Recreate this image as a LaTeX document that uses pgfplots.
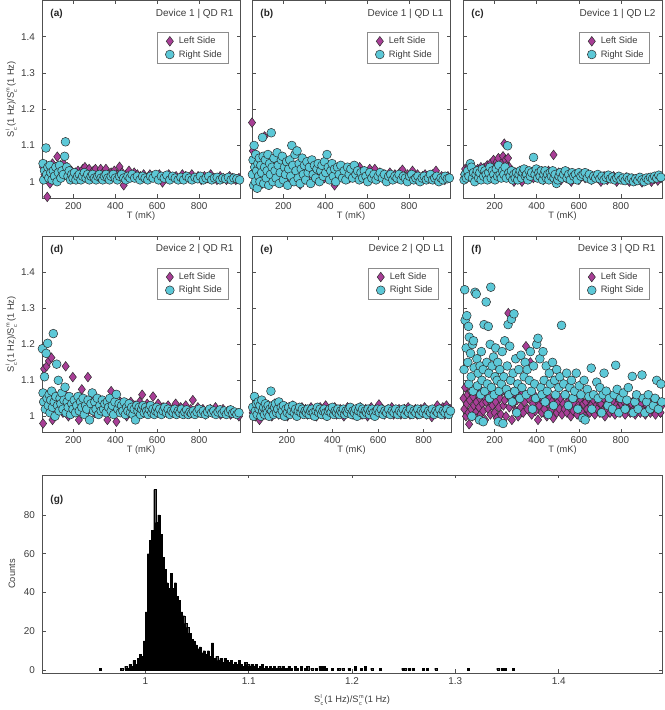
\documentclass[border=0pt]{standalone}
\usepackage{pgfplots}
\pgfplotsset{compat=1.18}
\usepackage{fontspec}
\setmainfont{Liberation Sans}
\definecolor{lside}{RGB}{168,62,150}
\definecolor{rside}{RGB}{92,200,215}
\definecolor{edge}{RGB}{45,45,45}
\definecolor{axc}{RGB}{80,80,80}
\definecolor{txt}{RGB}{60,60,60}
\newcommand{\fs}{\fontsize{9.3bp}{11bp}\selectfont}
\newcommand{\fk}{\fontsize{9.9bp}{11bp}\selectfont}
\newcommand{\ft}{\fontsize{10bp}{12bp}\selectfont}
\newcommand{\sbsp}[2]{\kern0.5bp\raisebox{-3.3bp}{\fontsize{5.5bp}{7.6bp}\selectfont\begin{tabular}[b]{@{}l@{}}#2\\#1\end{tabular}}\kern1bp}
\newcommand{\ratio}{S\sbsp{c}{l}(1 Hz)/S\sbsp{c}{m}(1 Hz)}
\pgfplotsset{
  base/.style={scale only axis, axis line style={axc, line width=0.5bp},
    tick style={axc, line width=0.5bp}, tick align=inside, major tick length=3.5bp,
    ticklabel style={font=\fk, text=txt}, label style={font=\fs, text=txt},
    /pgf/number format/assume math mode=true, xticklabel style={yshift=-1bp},
    yticklabel style={xshift=-3.5bp}},
  scat/.style={base, xmin=50, xmax=995, ymin=0.955, ymax=1.5,
    xtick={200,400,600,800}, ytick={1,1.1,1.2,1.3,1.4},
    xlabel={T (mK)}, xlabel style={at={(axis description cs:0.5,-0.092)}, anchor=center},
    legend style={at={(0.939,0.838)}, anchor=north east, draw=black!45, fill=white,
      font=\fs, text=txt, inner xsep=4bp, inner ysep=2.5bp, row sep=1bp},
    legend image code/.code={\path[draw=none, fill=none] (0bp,0bp) -- (16bp,0bp); \draw[##1, only marks] plot coordinates {(9bp,0bp)};},
    legend cell align=left},
  noylab/.style={yticklabels={}},
  ylab/.style={ylabel={\ratio}, ylabel style={at={(axis description cs:-0.152,0.5)}, anchor=center}},
  lpl/.style={only marks, mark=diamond*, mark size=4.8bp, draw=edge, fill=lside, line width=0.5bp},
  rpl/.style={only marks, mark=*, mark size=4.4bp, draw=edge, fill=rside, line width=0.5bp},
}
\newcommand{\plab}[2]{%
  \node[anchor=west, font=\bfseries\ft, text=black!85] at (rel axis cs:0.025,0.934) {#1};
  \node[anchor=east, font=\ft, text=txt] at (rel axis cs:0.985,0.934) {#2};}
\begin{document}
\begin{tikzpicture}
\path[use as bounding box] (0,0) rectangle (665bp,710bp);

% (a)
\begin{axis}[scat, ylab, width=198bp, height=197.5bp, at={(42bp,512bp)}, anchor=south west]
\addplot[lpl] coordinates {(55,1.04) (62,1.02) (70,1.045) (75,0.958) (80,1.03) (88,0.995) (95,1.035) (100,1.05) (108,1.02) (115,1.04) (123,1.069) (130,1.03) (138,1.045) (145,1.02) (152,1.05) (160,1.035) (170,1.04) (180,1.025) (190,1.03) (200,1.015) (210,1.025) (222,1.03) (235,1.02) (245,1.035) (255,1.04) (265,1.025) (275,1.035) (285,1.02) (295,1.03) (305,1.035) (318,1.02) (330,1.035) (342,1.025) (355,1.035) (368,1.02) (380,1.025) (395,1.03) (408,1.02) (420,1.041) (432,1.025) (440,0.99) (452,1.02) (465,1.03) (478,1.015) (490,1.025) (505,1.02) (520,1.015) (535,1.02) (550,1.01) (565,1.02) (580,1.015) (595,1.01) (610,1.02) (625,0.998) (640,1.015) (655,1.02) (670,1.01) (690,1.015) (705,1.01) (720,1.02) (735,1.015) (750,1.01) (765,1.02) (780,1.01) (795,1.015) (810,1.005) (825,1.015) (840,1.01) (855,1.02) (870,1.01) (885,1.005) (900,1.015) (915,1.01) (930,1.005) (945,1.015) (960,1.01) (975,1.005) (990,1.01)};
\addlegendentry{Left Side}
\addplot[rpl] coordinates {(55,1.05) (58,1.005) (62,1.03) (69,1.093) (72,1.02) (78,1.04) (82,1.01) (88,1.045) (92,1.025) (98,1.005) (104,1.03) (110,1.015) (116,1.04) (122,1.0) (128,1.025) (134,1.045) (140,1.01) (146,1.03) (152,1.02) (158,1.07) (162,1.11) (168,1.04) (174,1.015) (180,1.03) (186,1.005) (192,1.02) (198,1.01) (205,1.025) (212,1.005) (220,1.015) (228,1.02) (236,1.005) (244,1.015) (252,1.025) (260,1.01) (268,1.02) (276,1.005) (284,1.015) (292,1.02) (300,1.01) (308,1.005) (316,1.015) (324,1.02) (332,1.01) (340,1.005) (348,1.015) (356,1.02) (364,1.01) (372,1.005) (380,1.015) (390,1.02) (400,1.01) (410,1.005) (420,1.015) (430,1.02) (440,1.01) (450,1.005) (460,1.015) (470,1.01) (480,1.02) (492,1.01) (505,1.015) (518,1.005) (530,1.015) (542,1.01) (555,1.005) (568,1.015) (580,1.01) (593,1.02) (606,1.005) (620,1.015) (633,1.01) (646,1.018) (660,1.005) (673,1.015) (686,1.01) (700,1.005) (713,1.012) (726,1.005) (740,1.015) (753,1.01) (766,1.005) (780,1.012) (793,1.008) (806,1.015) (820,1.005) (833,1.01) (846,1.015) (860,1.005) (873,1.01) (886,1.012) (900,1.005) (913,1.01) (926,1.008) (940,1.012) (953,1.005) (966,1.01) (980,1.008) (993,1.005)};
\addlegendentry{Right Side}
\plab{(a)}{Device 1 | QD R1}
\end{axis}

% (b)
\begin{axis}[scat, noylab, width=198bp, height=197.5bp, at={(252bp,512bp)}, anchor=south west]
\addplot[lpl] coordinates {(50,1.163) (54,1.085) (57,0.99) (60,1.03) (64,1.05) (68,1.0) (72,1.04) (76,1.07) (80,1.01) (85,1.045) (90,1.02) (95,1.06) (100,0.995) (105,1.035) (110,1.125) (115,1.05) (120,1.015) (126,1.04) (132,1.0) (138,1.03) (145,1.055) (152,1.02) (160,1.04) (168,1.005) (176,1.035) (185,1.05) (194,1.015) (203,1.03) (212,1.0) (221,1.045) (230,1.02) (240,1.035) (250,1.01) (260,1.04) (270,1.025) (280,0.992) (290,1.03) (300,1.015) (312,1.035) (324,1.02) (336,1.04) (348,1.005) (360,1.03) (372,1.015) (384,1.035) (396,1.01) (408,1.025) (420,1.04) (432,1.015) (444,0.99) (456,1.03) (468,1.02) (480,1.035) (492,1.015) (504,1.025) (516,1.01) (528,1.04) (540,1.035) (552,1.02) (564,1.04) (576,1.015) (588,1.025) (600,1.01) (612,1.035) (624,1.02) (636,1.035) (648,1.01) (660,1.025) (672,1.015) (684,1.02) (696,1.005) (708,1.025) (720,1.015) (732,1.02) (744,1.01) (756,1.025) (768,1.033) (780,1.015) (792,1.02) (804,1.01) (816,1.03) (828,1.015) (840,1.02) (852,1.005) (864,1.015) (876,1.02) (888,1.01) (900,1.015) (912,1.02) (928,1.03) (940,1.01) (955,1.015) (970,1.005) (985,1.015)};
\addlegendentry{Left Side}
\addplot[rpl] coordinates {(52,1.02) (55,1.06) (58,0.99) (60,1.10) (63,1.04) (66,1.0) (68,1.075) (72,1.03) (75,0.982) (78,1.05) (82,1.015) (85,1.065) (88,1.0) (92,1.045) (96,1.025) (100,1.122) (103,1.07) (106,0.995) (110,1.04) (114,1.06) (118,1.01) (122,1.03) (126,1.075) (130,0.99) (134,1.05) (138,1.02) (142,1.135) (146,1.04) (150,1.0) (155,1.065) (160,1.03) (165,1.01) (170,1.08) (175,1.045) (180,0.995) (185,1.025) (190,1.06) (195,1.07) (200,1.005) (205,1.04) (210,1.02) (215,1.055) (220,0.99) (225,1.035) (230,1.06) (235,1.015) (240,1.10) (245,1.045) (250,1.0) (255,1.075) (260,1.03) (265,1.085) (270,1.01) (275,1.05) (280,0.995) (285,1.035) (290,1.065) (295,1.02) (300,1.045) (306,1.005) (312,1.055) (318,1.025) (324,1.04) (330,0.995) (336,1.06) (342,1.02) (348,1.045) (354,1.01) (360,1.035) (366,1.05) (372,1.0) (378,1.03) (384,1.045) (390,1.015) (396,1.055) (402,1.025) (408,1.075) (414,1.04) (420,1.005) (426,1.03) (432,1.05) (438,1.015) (444,1.035) (450,1.0) (458,1.04) (466,1.02) (474,1.045) (482,1.01) (490,1.03) (498,1.005) (506,1.04) (514,1.02) (522,1.035) (530,1.01) (538,1.045) (546,1.02) (554,1.03) (562,1.005) (570,1.025) (578,1.01) (586,1.03) (594,1.015) (602,1.0) (612,1.025) (622,1.01) (632,1.02) (642,1.005) (652,1.015) (662,1.025) (672,1.01) (682,1.02) (692,1.0) (702,1.015) (712,1.02) (722,1.005) (732,1.015) (742,1.01) (752,1.02) (762,1.005) (772,1.015) (782,1.01) (792,1.0) (802,1.015) (812,1.02) (822,1.005) (832,1.01) (842,1.015) (852,1.0) (862,1.01) (872,1.015) (882,1.005) (892,1.01) (902,1.02) (912,1.005) (922,1.01) (932,1.015) (942,1.0) (952,1.01) (962,1.005) (972,1.015) (982,1.008) (992,1.01)};
\addlegendentry{Right Side}
\plab{(b)}{Device 1 | QD L1}
\end{axis}

% (c)
\begin{axis}[scat, noylab, width=199bp, height=197.5bp, at={(463bp,512bp)}, anchor=south west]
\addplot[lpl] coordinates {(55,1.02) (60,1.035) (68,1.015) (75,1.04) (82,1.025) (90,1.045) (98,1.02) (105,1.03) (112,1.01) (120,1.035) (128,1.025) (135,1.04) (142,1.02) (150,1.038) (158,1.03) (165,1.045) (172,1.02) (180,1.05) (188,1.035) (195,1.06) (202,1.04) (210,1.055) (218,1.065) (225,1.03) (232,1.05) (240,1.07) (246,1.105) (252,1.06) (258,1.045) (264,1.065) (270,1.04) (276,1.02) (284,1.03) (292,1.0) (300,1.025) (310,1.015) (320,1.03) (330,1.0) (340,1.02) (350,1.03) (360,1.015) (372,1.025) (384,1.01) (396,1.03) (408,1.015) (420,1.025) (432,1.005) (444,1.02) (456,1.03) (468,1.015) (480,1.074) (492,1.01) (504,1.025) (516,1.005) (528,1.02) (540,1.01) (552,1.025) (564,1.0) (576,1.015) (588,1.02) (600,1.005) (615,1.015) (630,1.01) (645,1.02) (660,1.005) (675,1.015) (690,1.01) (705,1.0) (720,1.015) (735,1.005) (750,1.01) (765,1.015) (780,1.0) (795,1.01) (810,1.005) (825,1.012) (840,1.0) (855,1.008) (870,1.003) (885,1.01) (900,0.998) (915,1.005) (930,1.01) (945,1.0) (960,1.008) (975,1.003) (990,1.01)};
\addlegendentry{Left Side}
\addplot[rpl] coordinates {(55,1.005) (60,1.02) (66,1.01) (72,1.03) (78,1.015) (85,1.05) (90,1.04) (95,1.01) (100,1.025) (106,1.0) (112,1.02) (118,1.03) (124,1.01) (130,1.025) (136,1.005) (142,1.035) (148,1.015) (154,1.03) (160,1.02) (166,1.005) (172,1.025) (178,1.04) (184,1.01) (190,1.03) (196,1.02) (202,1.005) (208,1.035) (214,1.015) (220,1.045) (226,1.02) (232,1.01) (238,1.03) (244,1.02) (250,1.04) (256,1.01) (262,1.099) (268,1.025) (274,1.015) (280,1.03) (286,1.005) (292,1.02) (298,1.01) (304,1.025) (310,1.005) (316,1.02) (322,1.03) (328,1.01) (334,1.025) (340,1.035) (346,1.015) (352,1.02) (358,1.005) (364,1.03) (370,1.015) (376,1.025) (385,1.067) (392,1.02) (398,1.035) (404,1.01) (410,1.025) (416,1.015) (422,1.03) (428,1.005) (434,1.02) (440,1.03) (446,1.01) (452,1.02) (458,1.005) (464,1.025) (470,1.015) (476,1.03) (482,1.01) (488,1.02) (494,0.995) (500,1.005) (506,1.015) (512,1.025) (520,1.01) (528,1.02) (536,1.03) (544,1.01) (552,1.02) (560,1.005) (568,1.025) (576,1.015) (584,1.02) (592,1.005) (600,1.025) (610,1.015) (620,1.02) (630,1.025) (640,1.01) (650,1.02) (660,1.005) (670,1.015) (680,1.01) (690,1.02) (700,1.008) (710,1.015) (720,1.005) (730,1.012) (740,1.018) (750,1.008) (760,1.013) (770,1.005) (780,1.01) (790,1.015) (800,1.005) (810,1.01) (820,1.003) (830,1.012) (840,1.005) (850,1.01) (860,1.0) (870,1.008) (880,1.003) (890,1.012) (900,1.005) (910,1.0) (920,1.01) (930,1.005) (940,1.012) (950,1.008) (960,1.015) (970,1.01) (980,1.018) (990,1.012)};
\addlegendentry{Right Side}
\plab{(c)}{Device 1 | QD L2}
\end{axis}

% (d)
\begin{axis}[scat, ylab, width=198bp, height=196bp, at={(42bp,277.5bp)}, anchor=south west]
\addplot[lpl] coordinates {(55,0.98) (60,1.132) (66,1.05) (72,1.139) (78,1.02) (83,1.154) (90,1.04) (95,1.163) (100,0.99) (106,1.03) (112,1.06) (118,1.01) (124,1.045) (130,1.02) (136,1.055) (142,1.035) (150,1.01) (156,1.065) (163,1.139) (170,1.03) (176,1.0) (182,1.05) (190,1.02) (197,1.109) (205,1.04) (212,1.015) (220,1.05) (226,0.99) (232,1.03) (240,1.075) (248,1.02) (256,1.045) (262,1.01) (269,1.109) (276,1.035) (284,1.02) (292,1.05) (300,1.01) (310,1.035) (320,1.02) (330,1.045) (340,1.015) (350,1.03) (362,0.99) (372,1.04) (380,1.07) (390,1.02) (398,1.035) (405,0.985) (414,1.025) (424,1.04) (434,1.015) (444,1.03) (454,1.0) (464,1.025) (474,1.04) (484,1.01) (494,1.03) (504,1.015) (516,1.04) (528,1.06) (540,1.025) (552,1.035) (564,1.015) (580,1.055) (592,1.02) (604,1.035) (616,1.01) (628,1.025) (640,1.015) (652,1.03) (664,1.01) (676,1.02) (688,1.035) (700,1.01) (712,1.025) (724,1.015) (736,1.03) (748,1.01) (760,1.02) (770,1.045) (782,1.015) (794,1.025) (806,1.01) (818,1.02) (830,1.005) (842,1.015) (854,1.02) (866,1.01) (878,1.025) (890,1.015) (902,1.005) (914,1.02) (926,1.01) (938,1.015) (950,1.005) (962,1.012) (975,1.008) (990,1.0)};
\addlegendentry{Left Side}
\addplot[rpl] coordinates {(52,1.188) (55,1.065) (58,1.04) (62,1.11) (66,1.02) (70,1.175) (74,1.05) (77,1.203) (80,1.03) (84,1.06) (88,1.01) (92,1.045) (96,1.07) (100,1.025) (104,1.23) (108,1.04) (112,1.0) (116,1.055) (120,1.145) (124,1.03) (128,1.10) (132,1.015) (136,1.05) (140,1.035) (145,1.065) (150,1.02) (155,1.045) (160,1.081) (165,1.01) (170,1.04) (175,1.025) (180,1.055) (186,1.005) (192,1.035) (198,1.02) (204,1.045) (210,1.01) (216,1.03) (222,1.055) (228,1.015) (234,1.04) (240,1.025) (246,1.05) (252,1.005) (258,1.03) (264,1.02) (270,1.045) (277,0.99) (284,1.035) (290,1.065) (296,1.015) (302,1.04) (308,1.02) (314,1.05) (320,1.005) (326,1.03) (332,1.015) (338,1.045) (344,1.02) (350,1.035) (356,1.01) (362,1.04) (368,1.025) (374,1.05) (380,1.015) (386,1.03) (392,1.005) (398,1.04) (405,1.061) (412,1.02) (418,1.035) (424,1.01) (430,1.03) (436,1.015) (442,1.04) (448,1.005) (454,1.025) (460,1.015) (466,1.035) (472,1.01) (478,1.025) (484,1.005) (490,1.02) (496,0.99) (502,1.03) (508,1.015) (514,1.025) (520,1.005) (526,1.02) (532,1.03) (538,1.01) (544,1.025) (550,1.015) (556,1.005) (562,1.02) (568,1.03) (574,1.01) (580,1.02) (586,1.005) (592,1.015) (598,1.025) (604,1.01) (612,1.02) (620,1.005) (628,1.015) (636,1.025) (644,1.01) (652,1.02) (660,1.005) (668,1.015) (676,1.01) (684,1.02) (692,1.005) (700,1.015) (708,1.01) (716,1.02) (724,1.005) (732,1.012) (740,1.018) (748,1.005) (756,1.012) (764,1.008) (772,1.015) (780,1.005) (790,1.012) (800,1.02) (810,1.008) (820,1.015) (830,1.005) (840,1.012) (850,1.02) (860,1.01) (870,1.015) (880,1.005) (890,1.012) (900,1.018) (910,1.008) (920,1.015) (930,1.005) (940,1.012) (950,1.018) (960,1.008) (970,1.012) (980,1.005) (990,1.01)};
\addlegendentry{Right Side}
\plab{(d)}{Device 2 | QD R1}
\end{axis}

% (e)
\begin{axis}[scat, noylab, xmin=47, xmax=920, width=199bp, height=196bp, at={(252bp,277.5bp)}, anchor=south west]
\addplot[lpl] coordinates {(50,1.01) (56,1.02) (62,1.0) (68,1.03) (74,1.015) (80,0.99) (86,1.025) (92,1.01) (98,1.035) (104,1.005) (110,1.02) (116,1.03) (122,1.01) (128,1.025) (134,1.0) (140,1.02) (146,1.035) (152,1.01) (158,1.025) (164,1.005) (170,1.02) (178,1.03) (186,1.01) (194,1.02) (202,1.0) (210,1.025) (218,1.015) (226,1.03) (234,1.01) (242,1.02) (250,1.005) (258,1.015) (266,1.025) (274,1.01) (282,1.02) (290,1.005) (298,1.015) (306,1.025) (314,1.01) (322,1.02) (330,1.0) (338,1.015) (346,1.025) (354,1.01) (362,1.02) (370,1.03) (378,1.005) (386,1.015) (394,1.02) (402,1.01) (410,1.025) (418,1.005) (426,1.015) (434,1.02) (442,1.01) (450,1.0) (458,1.015) (466,1.025) (474,1.01) (482,1.02) (490,1.005) (498,1.015) (506,1.02) (514,1.01) (522,1.025) (530,1.005) (538,1.015) (546,1.02) (554,1.0) (562,1.015) (570,1.025) (578,1.005) (586,1.015) (594,1.02) (604,1.033) (612,1.01) (620,1.02) (628,1.005) (636,1.015) (644,1.02) (652,1.01) (660,1.025) (668,1.005) (676,1.015) (684,1.01) (692,1.02) (700,1.005) (708,1.015) (716,1.02) (724,1.01) (732,1.025) (740,1.005) (748,1.015) (756,1.01) (764,1.02) (772,1.005) (780,1.015) (788,1.02) (796,1.01) (804,1.025) (812,1.005) (820,1.015) (828,1.01) (836,0.998) (844,1.015) (852,1.02) (860,1.03) (868,1.01) (876,1.02) (884,1.025) (892,1.005) (900,1.03) (908,1.015) (916,1.02)};
\addlegendentry{Left Side}
\addplot[rpl] coordinates {(50,1.025) (54,1.0) (58,1.055) (62,1.015) (66,1.035) (70,1.005) (74,1.04) (78,1.02) (82,1.03) (86,1.0) (90,1.045) (94,1.015) (98,1.025) (102,1.005) (106,1.035) (110,1.02) (114,1.01) (118,1.03) (122,1.0) (126,1.02) (130,1.07) (134,1.015) (138,1.03) (142,1.005) (146,1.025) (150,1.035) (155,1.01) (160,1.02) (165,1.04) (170,1.005) (175,1.025) (180,1.015) (185,1.03) (190,1.0) (196,1.02) (202,1.01) (208,1.025) (214,1.005) (220,1.015) (226,1.03) (232,1.01) (238,1.02) (244,1.0) (250,1.015) (256,1.025) (262,1.01) (268,1.02) (274,1.005) (280,1.015) (286,1.01) (292,1.02) (298,1.005) (304,1.015) (310,1.02) (316,1.01) (322,1.0) (328,1.015) (334,1.025) (340,1.01) (346,1.02) (352,1.005) (358,1.015) (364,1.02) (370,1.01) (376,1.0) (382,1.015) (388,1.02) (394,1.01) (400,1.025) (406,1.005) (412,1.015) (418,1.01) (424,1.02) (430,1.005) (436,1.015) (442,1.01) (448,1.02) (454,1.005) (460,1.015) (466,1.01) (472,1.02) (478,1.025) (484,1.005) (490,1.015) (496,1.01) (502,1.02) (508,1.0) (514,1.015) (520,1.025) (526,1.01) (532,1.02) (538,1.005) (544,1.015) (550,1.01) (556,1.02) (562,1.005) (568,1.015) (574,1.02) (580,1.01) (586,1.0) (592,1.015) (598,1.02) (606,1.01) (614,1.02) (622,1.005) (630,1.015) (638,1.01) (646,1.02) (654,1.005) (662,1.015) (670,1.01) (678,1.02) (686,1.005) (694,1.015) (702,1.01) (710,1.02) (718,1.005) (726,1.015) (734,1.01) (742,1.02) (750,1.005) (758,1.015) (766,1.01) (774,1.02) (782,1.005) (790,1.015) (798,1.01) (806,1.02) (814,1.005) (822,1.015) (830,1.01) (838,1.02) (846,1.005) (854,1.015) (862,1.01) (870,1.02) (878,1.005) (886,1.015) (894,1.01) (902,1.02) (910,1.005) (918,1.015)};
\addlegendentry{Right Side}
\plab{(e)}{Device 2 | QD L1}
\end{axis}

% (f)
\begin{axis}[scat, noylab, width=199bp, height=196bp, at={(463bp,277.5bp)}, anchor=south west]
\addplot[lpl] coordinates {(52,1.05) (56,1.02) (60,1.08) (64,1.0) (68,1.035) (72,1.06) (76,1.01) (79,0.978) (82,1.045) (86,1.07) (90,1.02) (94,1.0) (98,1.055) (102,1.03) (106,1.075) (110,1.01) (114,1.04) (118,0.995) (122,1.06) (126,1.025) (130,1.05) (134,1.005) (138,1.07) (142,1.035) (146,1.015) (150,1.055) (155,0.99) (160,1.04) (165,1.065) (170,1.02) (175,1.045) (180,1.005) (185,1.075) (190,1.03) (195,1.055) (200,1.01) (205,1.04) (210,0.995) (215,1.065) (220,1.025) (225,1.05) (230,1.005) (236,1.07) (242,1.03) (248,1.045) (254,1.0) (260,1.06) (265,1.287) (270,1.025) (276,1.05) (282,0.99) (288,1.035) (294,1.065) (300,1.015) (306,1.045) (312,1.0) (318,1.055) (324,1.025) (330,1.07) (336,1.01) (342,1.04) (349,1.195) (356,1.02) (362,1.05) (370,1.15) (376,1.005) (382,1.035) (388,1.06) (394,1.015) (400,1.045) (406,0.99) (412,1.03) (418,1.055) (424,1.01) (430,1.04) (436,1.02) (442,1.065) (448,1.0) (454,1.035) (460,1.05) (466,1.015) (472,1.04) (478,0.995) (484,1.03) (490,1.055) (496,1.01) (502,1.04) (508,1.02) (514,1.05) (520,1.005) (526,1.035) (532,1.02) (538,1.06) (544,1.01) (550,1.04) (556,1.025) (562,1.0) (568,1.045) (574,1.015) (580,1.035) (586,1.055) (592,1.005) (598,1.03) (604,1.02) (610,1.045) (616,1.01) (622,1.035) (628,1.0) (634,1.04) (640,1.02) (646,1.05) (652,1.01) (658,1.03) (664,1.015) (670,1.045) (676,1.005) (682,1.03) (688,1.02) (694,1.04) (700,1.01) (706,1.035) (712,1.015) (718,1.05) (724,1.0) (730,1.03) (736,1.02) (742,1.045) (748,1.01) (754,1.035) (760,1.015) (766,1.04) (772,1.005) (778,1.03) (784,1.02) (790,1.045) (796,1.01) (802,1.035) (808,1.015) (814,1.04) (820,1.005) (826,1.03) (832,1.02) (838,1.04) (844,1.01) (850,1.035) (856,1.015) (862,1.045) (868,1.005) (874,1.03) (880,1.02) (886,1.04) (892,1.01) (898,1.035) (904,1.015) (910,1.045) (916,1.005) (922,1.03) (928,1.02) (934,1.04) (940,1.01) (946,1.035) (952,1.015) (958,1.04) (964,1.005) (970,1.03) (976,1.02) (982,1.04) (988,1.01) (994,1.03)};
\addlegendentry{Left Side}
\addplot[rpl] coordinates {(55,1.13) (58,1.352) (60,1.267) (65,1.19) (68,1.28) (73,1.15) (76,1.25) (78,1.09) (80,1.22) (86,1.175) (89,1.11) (92,1.0) (95,1.2) (98,1.07) (100,1.21) (103,1.135) (107,1.345) (113,1.34) (116,1.16) (119,1.085) (122,1.12) (128,0.99) (131,1.14) (134,1.06) (137,1.18) (140,1.1) (146,0.985) (146,1.13) (150,1.255) (153,1.07) (160,1.318) (163,1.15) (166,1.09) (170,1.25) (173,1.12) (176,1.05) (179,1.2) (182,1.359) (185,1.08) (188,1.14) (195,1.165) (198,1.06) (202,1.11) (205,1.19) (212,1.1) (215,1.15) (218,0.985) (222,1.07) (225,1.13) (232,1.09) (236,1.18) (240,0.98) (244,1.11) (248,1.21) (256,1.075) (260,1.14) (264,1.255) (268,1.06) (272,1.195) (276,1.1) (280,1.27) (284,1.04) (288,1.12) (292,1.285) (296,1.07) (300,1.16) (305,1.01) (310,1.09) (315,1.13) (320,1.05) (325,1.17) (330,1.08) (340,1.11) (345,1.15) (350,1.06) (355,1.13) (365,1.1) (370,1.18) (375,1.07) (380,1.02) (385,1.14) (390,1.09) (395,1.05) (400,1.2) (406,1.217) (415,1.16) (420,1.08) (425,1.06) (430,1.18) (435,1.1) (440,1.04) (445,1.14) (450,1.07) (455,1.005) (460,1.12) (465,1.09) (475,1.15) (480,1.03) (485,1.1) (490,1.06) (495,1.13) (505,1.08) (510,1.11) (518,1.253) (528,1.09) (535,1.06) (542,1.12) (550,1.03) (557,1.08) (565,1.1) (572,1.05) (580,1.07) (588,1.12) (595,1.02) (602,1.085) (610,1.06) (618,0.995) (625,1.1) (630,0.99) (640,1.075) (648,1.055) (659,1.134) (662,1.02) (670,1.06) (685,1.095) (692,1.05) (700,1.08) (708,1.01) (715,1.06) (720,1.12) (730,1.07) (738,1.03) (745,1.05) (760,1.02) (768,1.06) (775,1.142) (782,1.075) (790,1.01) (798,1.05) (812,1.065) (820,1.02) (828,1.045) (835,1.08) (854,1.111) (858,1.01) (866,1.04) (874,1.06) (882,1.02) (900,1.115) (906,1.05) (914,1.01) (922,1.04) (930,1.06) (938,1.02) (954,1.03) (970,1.1) (962,1.05) (978,1.02) (990,1.09) (994,1.04)};
\addlegendentry{Right Side}
\plab{(f)}{Device 3 | QD R1}
\end{axis}

% (g)
\begin{axis}[base, width=620bp, height=198bp, at={(42bp,37bp)}, anchor=south west,
  xmin=0.9, xmax=1.5, ymin=-1.5, ymax=100.5,
  xtick={1,1.1,1.2,1.3,1.4}, ytick={0,20,40,60,80},
  xlabel={\ratio}, xlabel style={at={(axis description cs:0.5,-0.138)}, anchor=center},
  ylabel={Counts}, ylabel style={at={(axis description cs:-0.0484,0.5)}, anchor=center}]
\addplot[ybar, bar width=0.002, bar shift=0pt, fill=black, draw=black, line width=0.2bp] coordinates {
(0.9565,1)
(0.977,1)(0.981,2)(0.983,1)(0.985,3)(0.987,2)(0.989,5)(0.991,3)(0.993,6)(0.995,8)(0.997,7)(0.999,15)
(1.001,30)(1.003,60)(1.005,67)(1.007,72)(1.009,93)(1.011,76)(1.013,80)(1.015,70)(1.017,58)(1.019,52)
(1.021,45)(1.023,42)(1.025,50)(1.027,42)(1.029,45)(1.031,38)(1.033,36)(1.035,30)(1.037,28)(1.039,24)
(1.041,22)(1.043,19)(1.045,16)(1.047,15)(1.049,13)(1.051,11)(1.053,12)(1.055,9)(1.057,10)(1.059,8)
(1.061,10)(1.063,7)(1.065,14)(1.067,6)(1.069,7)(1.071,5)(1.073,6)(1.075,4)(1.077,6)(1.079,5)
(1.081,4)(1.083,5)(1.085,3)(1.087,4)(1.089,3)(1.091,5)(1.093,3)(1.095,2)(1.097,4)(1.099,3)
(1.101,2)(1.103,3)(1.105,2)(1.107,3)(1.109,1)(1.111,2)(1.113,3)(1.115,1)(1.117,2)(1.119,1)
(1.121,2)(1.123,1)(1.125,2)(1.127,1)(1.129,2)(1.131,1)(1.133,2)(1.135,1)(1.137,1)(1.139,2)
(1.141,1)(1.145,2)(1.147,1)(1.151,2)(1.155,1)(1.157,2)(1.161,1)(1.165,1)(1.169,2)(1.171,2)
(1.173,2)(1.175,1)(1.181,1)(1.187,1)(1.191,1)(1.197,1)(1.203,2)(1.209,1)(1.213,2)(1.219,1)
(1.2275,1)(1.249,1)(1.251,1)(1.255,1)(1.259,1)(1.269,1)(1.273,1)(1.281,1)(1.3127,1)
(1.341,1)(1.345,1)(1.348,1)(1.356,1)};
\node[anchor=west, font=\bfseries\ft, text=black!85] at (rel axis cs:0.008,0.874) {(g)};
\end{axis}
\end{tikzpicture}
\end{document}
